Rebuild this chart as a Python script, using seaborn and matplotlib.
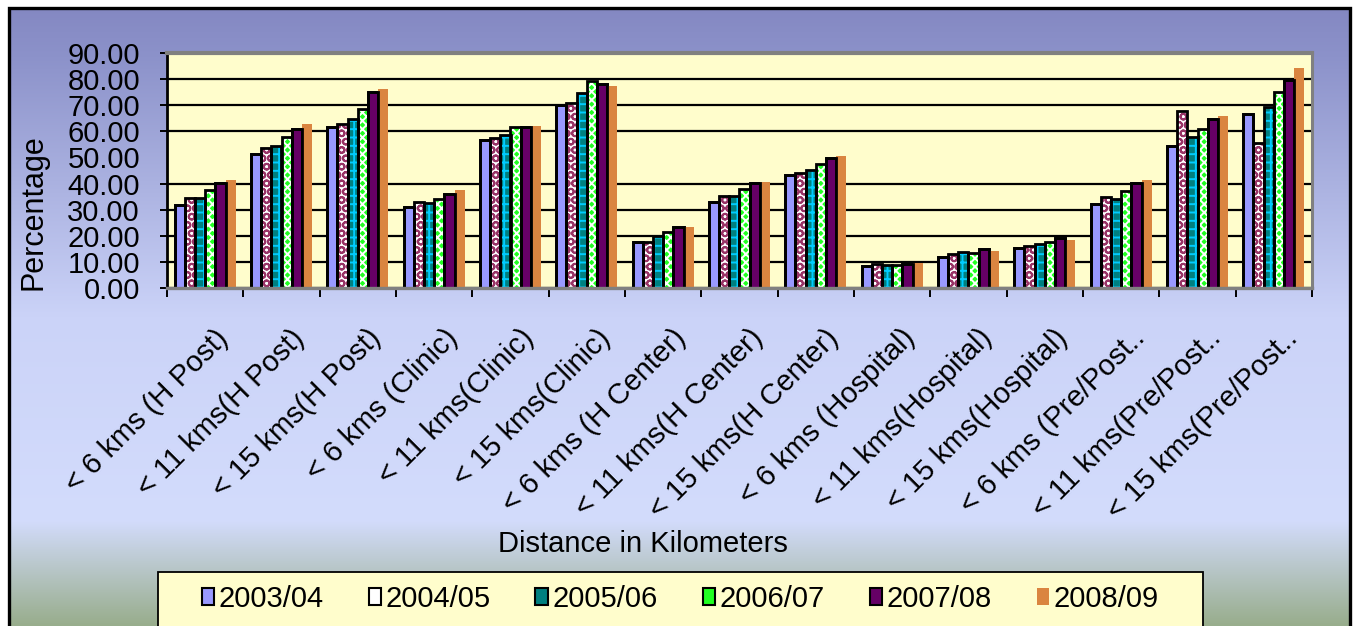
import numpy as np
import pandas as pd
import matplotlib
matplotlib.use("Agg")
import matplotlib.pyplot as plt
import matplotlib.transforms as mtransforms
from matplotlib.patches import Rectangle, Patch
import seaborn as sns

# ---------------- data ----------------
categories = [
    "< 6 kms (H Post)", "< 11 kms(H Post)", "< 15 kms(H Post)",
    "< 6 kms (Clinic)", "< 11 kms(Clinic)", "< 15 kms(Clinic)",
    "< 6 kms (H Center)", "< 11 kms(H Center)", "< 15 kms(H Center)",
    "< 6 kms (Hospital)", "< 11 kms(Hospital)", "< 15 kms(Hospital)",
    "< 6 kms (Pre/Post..", "< 11 kms(Pre/Post..", "< 15 kms(Pre/Post..",
]
years = ["2003/04", "2004/05", "2005/06", "2006/07", "2007/08", "2008/09"]

v2003 = [31.7, 51.3, 61.6, 31.1, 56.7, 70.2, 17.7, 33.1, 43.4, 8.6, 12.0, 15.2, 32.0, 54.4, 66.6]
v2004 = [34.6, 53.6, 62.8, 33.0, 57.6, 70.8, 17.7, 35.3, 44.1, 9.2, 12.9, 15.9, 34.9, 67.9, 55.4]
v2005 = [34.6, 54.4, 64.8, 32.4, 58.7, 74.6, 20.0, 35.3, 45.2, 8.8, 13.6, 16.7, 34.1, 57.8, 69.4]
v2006 = [37.7, 57.8, 68.7, 34.1, 61.6, 79.1, 21.3, 37.9, 47.6, 8.8, 13.5, 17.8, 37.1, 60.9, 75.0]
v2007 = [40.2, 60.8, 75.0, 36.0, 61.6, 78.2, 23.3, 40.2, 49.6, 9.2, 14.8, 19.0, 40.2, 64.7, 79.7]
v2008 = [41.3, 63.0, 76.4, 37.4, 61.9, 77.2, 23.3, 40.5, 50.4, 9.4, 14.3, 18.5, 41.3, 65.7, 84.4]
series = [v2003, v2004, v2005, v2006, v2007, v2008]
yticks = [0, 10, 20, 30, 40, 50, 60, 70, 80, 90]

df = pd.DataFrame({
    "Distance": np.repeat([categories], len(years), axis=0).ravel(),
    "Year": np.repeat(years, len(categories)),
    "Percentage": np.concatenate(series),
})

# ---------------- style ----------------
face_colors = ["#9999FF", "#FFFFFF", "#008080", "#22FF22", "#660066", "#DA8540"]
hatches = [None, "OO", "++", "xxxx", None, None]
hatch_colors = [None, "#993366", "#00CCFF", "#FFFFFF", None, None]
outlined = [True, True, True, True, True, False]

plt.rcParams["font.family"] = ["Liberation Sans", "DejaVu Sans"]
plt.rcParams["hatch.linewidth"] = 1.4

W, H = 1356, 626
fig = plt.figure(figsize=(W / 100, H / 100), dpi=100, facecolor="white")

# gradient background inside black frame
bg = fig.add_axes([9 / W, 0, (1349 - 9) / W, (H - 7.5) / H], zorder=-10)
stops_y = np.array([0.0, 0.08, 0.50, 0.83, 1.0])  # top -> bottom fraction
stops_c = np.array([
    [0x84, 0x88, 0xC2], [0x8C, 0x92, 0xCA], [0xCB, 0xD3, 0xF8],
    [0xD3, 0xDC, 0xFC], [0x98, 0xAD, 0x8C]]) / 255.0
yy = np.linspace(0, 1, 400)
grad = np.stack([np.interp(yy, stops_y, stops_c[:, k]) for k in range(3)], axis=1)
bg.imshow(grad[:, None, :], aspect="auto", extent=[0, 1, 1, 0])
bg.set_xlim(0, 1); bg.set_ylim(1, 0)
bg.axis("off")
fig.patches.append(Rectangle((8.5 / W, -0.05), (1349.5 - 8.5) / W, 1.05 - 7.5 / H,
                             transform=fig.transFigure, fill=False,
                             edgecolor="black", linewidth=2.4, zorder=-5))

# plot area
ax = fig.add_axes([167 / W, 1 - 288 / H, (1312 - 167) / W, (288 - 53) / H])
ax.set_facecolor("#FFFDCC")
sns.barplot(data=df, x="Distance", y="Percentage", hue="Year",
            palette=face_colors, width=0.8, saturation=1, legend=False,
            errorbar=None, ax=ax)

for i, cont in enumerate(ax.containers):
    for rect in cont:
        rect.set_facecolor(face_colors[i])
        if hatches[i]:
            rect.set_hatch(hatches[i])
            rect.set_edgecolor(hatch_colors[i])
            rect.set_linewidth(0.3)
        else:
            rect.set_edgecolor("black" if outlined[i] else face_colors[i])
            rect.set_linewidth(2.0 if outlined[i] else 0)
        if outlined[i]:
            ax.add_patch(Rectangle(rect.get_xy(), rect.get_width(), rect.get_height(),
                                   fill=False, edgecolor="black", linewidth=2.0,
                                   zorder=rect.get_zorder() + 0.1))

ax.set_xlim(-0.5, len(categories) - 0.5)
ax.set_ylim(0, 90)
ax.set_axisbelow(True)
ax.set_yticks(yticks)
ax.set_yticklabels([f"{v:.2f}" for v in yticks], fontsize=21)
ax.yaxis.grid(True, color="black", linewidth=1.6)
ax.xaxis.grid(False)
ax.tick_params(axis="y", direction="out", length=5, width=1.4, color="black", pad=14.5)
for t in ax.yaxis.get_major_ticks():
    if abs(t.get_loc() - 50) < 1e-6:
        t.tick1line.set_visible(False)
        t.gridline.set_visible(False)

ax.set_xticks(range(len(categories)))
ax.set_xticklabels(categories, rotation=45, ha="right", va="top",
                   rotation_mode="anchor", fontsize=21)
ax.tick_params(axis="x", which="major", length=0, pad=0)
ax.set_xticks(np.arange(-0.5, len(categories), 1.0), minor=True)
ax.tick_params(axis="x", which="minor", direction="out", length=6.5, width=1.4, color="black")
offset = mtransforms.ScaledTranslation(9 / 100, -36 / 100, fig.dpi_scale_trans)
for lab in ax.get_xticklabels():
    lab.set_transform(lab.get_transform() + offset)

ax.set_xlabel("")
ax.set_ylabel("")
ax.spines["left"].set_color("black"); ax.spines["left"].set_linewidth(2)
for s in ["top", "right", "bottom"]:
    ax.spines[s].set_color("#808080")
ax.spines["top"].set_linewidth(3)
ax.spines["right"].set_linewidth(2.2)
ax.spines["bottom"].set_linewidth(2.4)

fig.text(34 / W, 1 - 212 / H, "Percentage", rotation=90, ha="center", va="center", fontsize=22)
fig.text(643 / W, 1 - 544 / H, "Distance in Kilometers", ha="center", va="center", fontsize=21)

# legend box
fig.patches.append(Rectangle((158 / W, -0.05), (1203 - 158) / W, 0.05 + (626 - 572) / H,
                             transform=fig.transFigure, facecolor="#FFFDCC",
                             edgecolor="black", linewidth=1.3, zorder=1))
handles = []
for i in range(len(years)):
    handles.append(Patch(facecolor=face_colors[i],
                         edgecolor="black" if outlined[i] else face_colors[i],
                         linewidth=1.5 if outlined[i] else 0))
fig.legend(handles, years, loc="center", bbox_to_anchor=(680 / W, 1 - 599 / H),
           ncol=6, frameon=False, fontsize=21, handlelength=0.42, handleheight=0.55,
           handletextpad=0.15, columnspacing=1.55)

fig.savefig("out.png", dpi=100, facecolor=fig.get_facecolor())
